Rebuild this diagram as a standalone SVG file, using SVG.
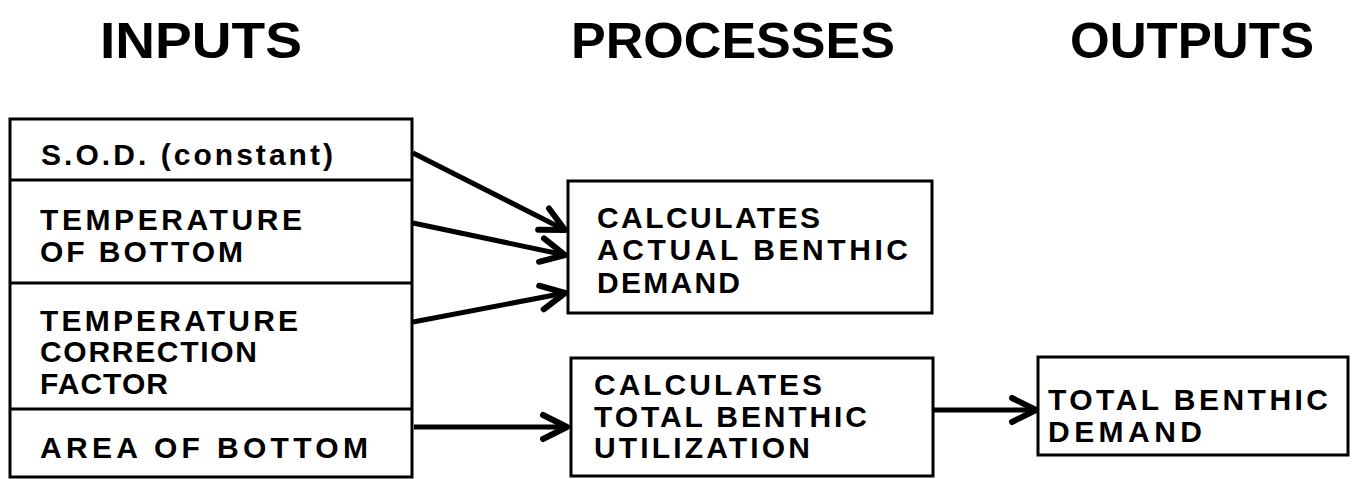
<svg xmlns="http://www.w3.org/2000/svg" width="1353" height="479" viewBox="0 0 1353 479">
<style>
  .box { fill: #fff; stroke: #000; stroke-width: 3; }
  .div { stroke: #000; stroke-width: 3; fill: none; }
  .t { font-family: "Liberation Sans", Arial, sans-serif; font-weight: bold; font-size: 30px; fill: #000; }
  .h { font-family: "Liberation Sans", Arial, sans-serif; font-weight: bold; font-size: 50px; fill: #000; }
  .conn { stroke: #000; stroke-width: 5; fill: none; marker-end: url(#arr); }
</style>
<defs>
  <marker id="arr" markerUnits="userSpaceOnUse" markerWidth="40" markerHeight="40" refX="0" refY="0" viewBox="-30 -20 40 40" orient="auto" overflow="visible">
    <path d="M-24,-12 L0,0 L-24,12" fill="none" stroke="#000" stroke-width="6" stroke-linejoin="round" stroke-linecap="round"/>
  </marker>
</defs>
<rect width="1353" height="479" fill="#fff"/>

<g id="headers">
  <text class="h" x="100" y="58" textLength="202" lengthAdjust="spacingAndGlyphs">INPUTS</text>
  <text class="h" x="571" y="58" textLength="324" lengthAdjust="spacingAndGlyphs">PROCESSES</text>
  <text class="h" x="1070" y="58" textLength="244" lengthAdjust="spacingAndGlyphs">OUTPUTS</text>
</g>

<g id="inputs">
  <rect class="box" x="10" y="119" width="402" height="358"/>
  <line class="div" x1="10" y1="180" x2="412" y2="180"/>
  <line class="div" x1="10" y1="283" x2="412" y2="283"/>
  <line class="div" x1="10" y1="409" x2="412" y2="409"/>
  <text class="t" x="41" y="165" textLength="292" lengthAdjust="spacing">S.O.D. (constant)</text>
  <text class="t" x="40" y="230" textLength="262" lengthAdjust="spacing">TEMPERATURE</text>
  <text class="t" x="40" y="262" textLength="203" lengthAdjust="spacing">OF BOTTOM</text>
  <text class="t" x="40" y="331" textLength="258" lengthAdjust="spacing">TEMPERATURE</text>
  <text class="t" x="40" y="362" textLength="217" lengthAdjust="spacing">CORRECTION</text>
  <text class="t" x="40" y="394" textLength="128" lengthAdjust="spacing">FACTOR</text>
  <text class="t" x="40" y="458" textLength="328" lengthAdjust="spacing">AREA OF BOTTOM</text>
</g>

<g id="process-actual">
  <rect class="box" x="568" y="181" width="364" height="132"/>
  <text class="t" x="597" y="228" textLength="223" lengthAdjust="spacing">CALCULATES</text>
  <text class="t" x="597" y="260" textLength="311" lengthAdjust="spacing">ACTUAL BENTHIC</text>
  <text class="t" x="597" y="293" textLength="143" lengthAdjust="spacing">DEMAND</text>
</g>

<g id="process-total">
  <rect class="box" x="571" y="358" width="362" height="118"/>
  <text class="t" x="594" y="395" textLength="228" lengthAdjust="spacing">CALCULATES</text>
  <text class="t" x="594" y="427" textLength="273" lengthAdjust="spacing">TOTAL BENTHIC</text>
  <text class="t" x="594" y="458" textLength="216" lengthAdjust="spacing">UTILIZATION</text>
</g>

<g id="output">
  <rect class="box" x="1038" y="357" width="310" height="98"/>
  <text class="t" x="1048" y="410" textLength="280" lengthAdjust="spacing">TOTAL BENTHIC</text>
  <text class="t" x="1048" y="442" textLength="154" lengthAdjust="spacing">DEMAND</text>
</g>

<g id="connectors">
  <line class="conn" x1="413" y1="153" x2="565" y2="230"/>
  <line class="conn" x1="413" y1="223" x2="565" y2="255"/>
  <line class="conn" x1="413" y1="322" x2="565" y2="293"/>
  <line class="conn" x1="414" y1="427" x2="567" y2="427"/>
  <line class="conn" x1="934" y1="410" x2="1036" y2="410"/>
</g>
</svg>
